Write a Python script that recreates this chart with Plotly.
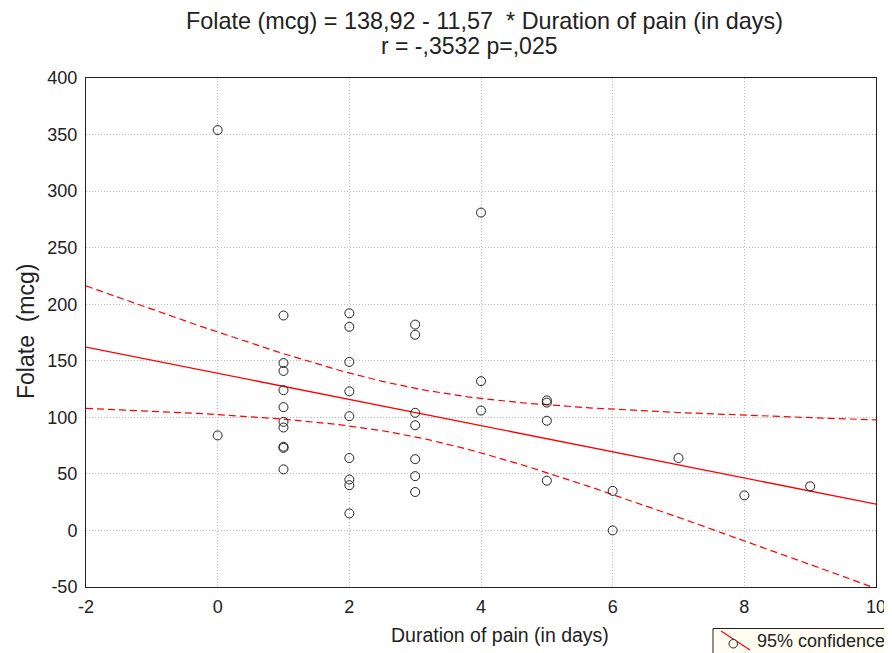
import numpy as np
import plotly.graph_objects as go

# Data
duration = [0, 0,
            1, 1, 1, 1, 1, 1, 1, 1, 1, 1,
            2, 2, 2, 2, 2, 2, 2, 2, 2,
            3, 3, 3, 3, 3, 3, 3,
            4, 4, 4,
            5, 5, 5, 5,
            6, 6,
            7, 8, 9]
folate = [354, 84,
          190, 148, 141, 124, 109, 96, 91, 74, 73, 54,
          192, 180, 149, 123, 101, 64, 45, 40, 15,
          182, 173, 104, 93, 63, 48, 34,
          281, 132, 106,
          115, 113, 97, 44,
          35, 0,
          64, 31, 39]

x_ticks = [-2, 0, 2, 4, 6, 8, 10]
x_tick_text = ["-2", "0", "2", "4", "6", "8", "10"]
y_ticks = [-50, 0, 50, 100, 150, 200, 250, 300, 350, 400]
y_tick_text = ["-50", "0", "50", "100", "150", "200", "250", "300", "350", "400"]
intercept = 138.92
slope = -11.57
t_crit = 2.024  # t(0.975, df=38)

x = np.array(duration, float)
y = np.array(folate, float)
n = len(x)
xs = np.linspace(-2, 10, 121)
fit_line = intercept + slope * xs
resid = y - (intercept + slope * x)
s = np.sqrt(np.sum(resid ** 2) / (n - 2))
sxx = np.sum((x - x.mean()) ** 2)
se = s * np.sqrt(1.0 / n + (xs - x.mean()) ** 2 / sxx)
upper = fit_line + t_crit * se
lower = fit_line - t_crit * se

fig = go.Figure()
fig.add_trace(go.Scatter(x=xs, y=upper, mode="lines",
                         line=dict(color="#ff0000", width=1.2, dash="7px,4px"),
                         showlegend=False, hoverinfo="skip"))
fig.add_trace(go.Scatter(x=xs, y=lower, mode="lines",
                         line=dict(color="#ff0000", width=1.2, dash="7px,4px"),
                         showlegend=False, hoverinfo="skip"))
fig.add_trace(go.Scatter(x=xs, y=fit_line, mode="lines",
                         line=dict(color="#ff0000", width=1.3),
                         showlegend=False))
fig.add_trace(go.Scatter(x=duration, y=folate, mode="markers",
                         marker=dict(symbol="circle-open", size=9,
                                     color="#222222", line=dict(width=1)),
                         showlegend=False))

font_family = "Liberation Sans, Arial, sans-serif"
axis_common = dict(showline=True, linecolor="#222222", linewidth=1, mirror=True,
                   showgrid=True, gridcolor="#bdbdbd", griddash="1px,2px", gridwidth=1,
                   zeroline=False, ticks="outside", tickcolor="rgba(0,0,0,0)",
                   automargin=False,
                   tickfont=dict(size=18, color="#222222", family=font_family))

# The page body adds an 8px offset, so the figure is 8px smaller and shifted
fig.update_layout(
    width=884, height=645,
    margin=dict(l=78, r=16, t=70, b=66),
    paper_bgcolor="white", plot_bgcolor="white",
    font=dict(family=font_family, color="#222222"),
    xaxis=dict(range=[-2, 10], tickvals=x_ticks, ticktext=x_tick_text, ticklen=3,
               **axis_common),
    yaxis=dict(range=[-50, 400], tickvals=y_ticks, ticktext=y_tick_text, ticklen=4,
               **axis_common),
    showlegend=False,
)


def px(v):
    return (v - 86) / 790


def py(v):
    return (587 - v) / 509


fig.add_annotation(text="Folate (mcg) = 138,92 - 11,57 \u00a0* Duration of pain (in days)",
                   xref="paper", yref="paper", x=px(484), y=py(21),
                   xanchor="center", yanchor="middle", showarrow=False,
                   font=dict(size=23.4, color="#222222"))
fig.add_annotation(text="r = -,3532 p=,025",
                   xref="paper", yref="paper", x=px(469), y=py(46),
                   xanchor="center", yanchor="middle", showarrow=False,
                   font=dict(size=23, color="#222222"))
fig.add_annotation(text="Duration of pain (in days)",
                   xref="paper", yref="paper", x=px(500), y=py(635),
                   xanchor="center", yanchor="middle", showarrow=False,
                   font=dict(size=19.5, color="#222222"))
fig.add_annotation(text="Folate \u00a0(mcg)", textangle=-90,
                   xref="paper", yref="paper", x=px(26), y=py(332),
                   xanchor="center", yanchor="middle", showarrow=False,
                   font=dict(size=23, color="#222222"))

# Legend box
fig.add_shape(type="rect", xref="paper", yref="paper",
              x0=px(713), x1=px(895), y0=py(628.5), y1=py(656),
              fillcolor="#fffcf2", line=dict(color="#222222", width=1), layer="above")
fig.add_shape(type="line", xref="paper", yref="paper",
              x0=px(721), y0=py(631), x1=px(750), y1=py(650),
              line=dict(color="#ff0000", width=1.2), layer="above")
fig.add_shape(type="circle", xref="paper", yref="paper",
              x0=px(729), x1=px(737.5), y0=py(639.5), y1=py(648),
              fillcolor="#fffcf2", line=dict(color="#222222", width=1), layer="above")
fig.add_annotation(text="95% confidence", xref="paper", yref="paper",
                   x=px(755), y=py(641), xanchor="left", yanchor="middle",
                   showarrow=False, font=dict(size=18, color="#222222"))

fig.write_html("out.html")
